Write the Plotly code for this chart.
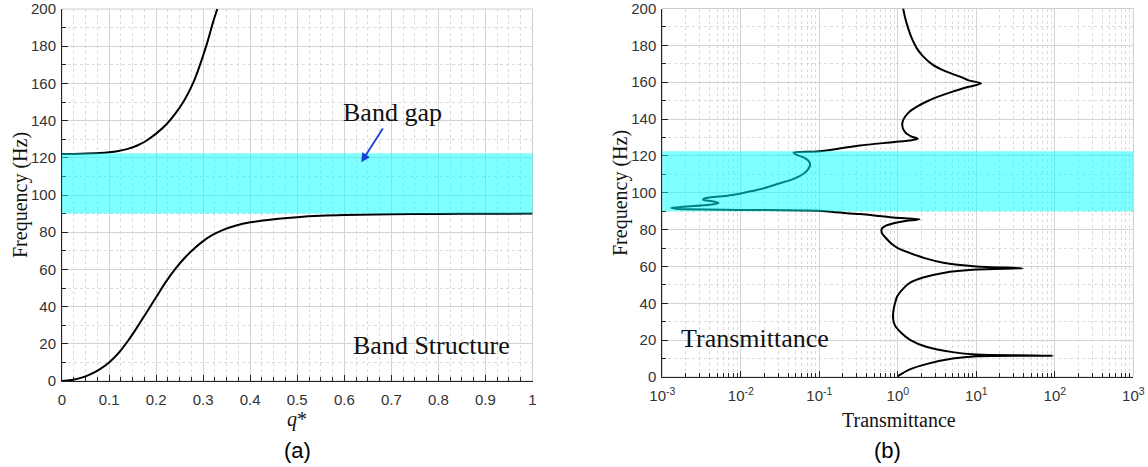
import plotly.graph_objects as go

# ---- Data ----
# Panel (a): band structure
q_lower = [0, 0.02, 0.04, 0.06, 0.08, 0.1, 0.12, 0.14, 0.16, 0.18, 0.2, 0.22, 0.24, 0.26,
           0.28, 0.3, 0.32, 0.34, 0.37, 0.4, 0.45, 0.5, 0.55, 0.6, 0.7, 0.8, 0.9, 1.0]
f_lower = [0, 0.5, 1.7, 3.6, 6.3, 10, 15, 21.5, 29, 37, 45, 53, 60, 66,
           71, 75.2, 78.5, 81, 83.6, 85.3, 87, 88.1, 88.8, 89.2, 89.6, 89.8, 89.9, 90]
q_upper = [0, 0.04, 0.08, 0.1, 0.12, 0.14, 0.16, 0.18, 0.2, 0.22, 0.24, 0.26, 0.28, 0.3,
           0.31, 0.32, 0.33]
f_upper = [122, 122.2, 122.6, 123, 123.7, 124.8, 126.6, 129.3, 133, 137.5, 143.5, 151, 161,
           175, 183, 192, 200]

# Panel (b): transmittance vs frequency
f_trans = [0.5, 4, 7, 10, 11.3, 11.6, 12.2, 13.5, 16.4, 20, 23.7, 28, 32, 36, 40, 43.7, 47, 51,
           54, 56.5, 58.3, 59, 60, 62, 64.5, 67.4, 70, 72, 75.6, 78, 80, 81.5, 82.9, 84.5, 85.6,
           86.6, 88.4, 89.5, 90.2, 90.7, 91.3, 91.8, 92.5, 93.5, 94.4, 95.3, 96.2, 97, 98.5,
           100, 102, 104.5, 107.5, 111, 114.8, 117, 119, 120.5, 121.7, 122.4, 124, 125.7,
           127.5, 128.5, 129.3, 130.5, 132, 134, 136.5, 139, 141.5, 144, 147, 149.4, 152,
           154.9, 157.5, 159.4, 161, 163, 166, 169.4, 174, 178.5, 184, 189.5, 195, 200]
t_trans = [1.0, 1.4, 2.3, 5, 10, 94, 10, 5, 2.3, 1.45, 1.12, 0.92, 0.87, 0.88, 0.92, 0.98, 1.12,
           1.41, 2.1, 3.8, 10, 39, 10, 3.8, 2.2, 1.41, 1.0, 0.85, 0.7, 0.63, 0.62, 0.66, 0.8,
           1.2, 1.9, 0.87, 0.33, 0.15, 0.1, 0.01, 0.0015, 0.0013, 0.002, 0.004, 0.0052, 0.0045,
           0.0033, 0.0035, 0.007, 0.011, 0.018, 0.028, 0.047, 0.066, 0.076, 0.074, 0.064, 0.052,
           0.047, 0.093, 0.18, 0.33, 0.9, 1.5, 1.8, 1.5, 1.3, 1.19, 1.14, 1.16, 1.25, 1.41, 1.8,
           2.3, 3.2, 5, 8, 11.5, 8, 6.2, 4, 2.8, 2.1, 1.74, 1.5, 1.35, 1.24, 1.17]

gap_low, gap_high = 90, 122.5
freq_ticks = [0, 20, 40, 60, 80, 100, 120, 140, 160, 180, 200]
q_ticks = [0, 0.1, 0.2, 0.3, 0.4, 0.5, 0.6, 0.7, 0.8, 0.9, 1]
q_tick_text = ["0", "0.1", "0.2", "0.3", "0.4", "0.5", "0.6", "0.7", "0.8", "0.9", "1"]
t_ticks = [1e-3, 1e-2, 1e-1, 1, 10, 100, 1000]
t_tick_text = ["10<sup>-3</sup>", "10<sup>-2</sup>", "10<sup>-1</sup>", "10<sup>0</sup>",
               "10<sup>1</sup>", "10<sup>2</sup>", "10<sup>3</sup>"]

# ---- Figure ----
W, H = 1148, 467
fig = go.Figure()
line_style = dict(color="black", width=2, shape="spline", smoothing=1.0)
fig.add_trace(go.Scatter(x=q_lower, y=f_lower, mode="lines", line=line_style,
                         xaxis="x", yaxis="y", showlegend=False))
fig.add_trace(go.Scatter(x=q_upper, y=f_upper, mode="lines", line=line_style,
                         xaxis="x", yaxis="y", showlegend=False))
fig.add_trace(go.Scatter(x=t_trans, y=f_trans, mode="lines",
                         line=dict(color="black", width=2, shape="spline", smoothing=0.8),
                         xaxis="x2", yaxis="y2", showlegend=False))

tickfont = dict(family="Liberation Sans, Arial", size=15, color="#333333")
grid_major = "#d4d4d4"
grid_minor = "#dadada"

common_axis = dict(showline=True, linecolor="#222222", linewidth=1, ticks="inside",
                   ticklen=6, tickcolor="#222222", showgrid=True, gridcolor=grid_major,
                   gridwidth=1, zeroline=False, tickfont=tickfont, automargin=False,
                   ticklabeloverflow="allow")

fig.update_layout(
    width=W, height=H, margin=dict(l=0, r=0, t=0, b=0),
    paper_bgcolor="white", plot_bgcolor="white",
    xaxis=dict(domain=[62 / W, 532.5 / W], range=[0, 1], tickvals=q_ticks,
               ticktext=q_tick_text, anchor="y", ticklabelstandoff=5,
               minor=dict(dtick=0.025, showgrid=True, griddash="dot", gridcolor=grid_minor,
                          ticks="inside", ticklen=4, tickcolor="#222222"),
               **common_axis),
    yaxis=dict(domain=[(H - 381) / H, (H - 9) / H], range=[0, 200.001], tickvals=freq_ticks,
               anchor="x", ticklabelstandoff=2,
               minor=dict(dtick=10, showgrid=True, griddash="dot", gridcolor=grid_minor,
                          ticks="inside", ticklen=4, tickcolor="#222222"),
               **common_axis),
    xaxis2=dict(domain=[662.3 / W, 1133.3 / W], type="log", range=[-3, 3],
                tickvals=t_ticks, ticktext=t_tick_text, anchor="y2", ticklabelstandoff=5,
                minor=dict(dtick="D1", showgrid=True, griddash="dot", gridcolor=grid_minor,
                           ticks="inside", ticklen=4, tickcolor="#222222"),
                **common_axis),
    yaxis2=dict(domain=[(H - 377) / H, (H - 8.5) / H], range=[0, 200.001], tickvals=freq_ticks,
                anchor="x2", ticklabelstandoff=2,
                minor=dict(dtick=10, showgrid=True, griddash="dot", gridcolor=grid_minor,
                           ticks="inside", ticklen=4, tickcolor="#222222"),
                **common_axis),
)

shapes = []
for xr, yr in [("x", "y"), ("x2", "y2")]:
    # band gap
    shapes.append(dict(type="rect", xref=xr + " domain", yref=yr, x0=0, x1=1,
                       y0=gap_low, y1=gap_high, fillcolor="rgba(0,255,255,0.5)",
                       line=dict(width=0), layer="above"))
    # light frame (top/right)
    shapes.append(dict(type="rect", xref=xr + " domain", yref=yr + " domain", x0=0, x1=1,
                       y0=0, y1=1, line=dict(color="#cccccc", width=1),
                       fillcolor="rgba(0,0,0,0)", layer="below"))
fig.update_layout(shapes=shapes)

serif = "Liberation Serif, Times New Roman"
ann = []
# axis titles
ann.append(dict(text="Frequency (Hz)", xref="paper", yref="paper", x=20 / W, y=(H - 195) / H,
                textangle=-90, showarrow=False, font=dict(family=serif, size=20, color="#111"),
                xanchor="center", yanchor="middle"))
ann.append(dict(text="Frequency (Hz)", xref="paper", yref="paper", x=620 / W, y=(H - 193) / H,
                textangle=-90, showarrow=False, font=dict(family=serif, size=20, color="#111"),
                xanchor="center", yanchor="middle"))
ann.append(dict(text="<i>q</i>*", xref="paper", yref="paper", x=297 / W, y=(H - 419) / H,
                showarrow=False, font=dict(family=serif, size=20, color="#111"),
                xanchor="center", yanchor="middle"))
ann.append(dict(text="Transmittance", xref="paper", yref="paper", x=899 / W, y=(H - 420) / H,
                showarrow=False, font=dict(family=serif, size=20, color="#111"),
                xanchor="center", yanchor="middle"))
# panel labels
ann.append(dict(text="(a)", xref="paper", yref="paper", x=297 / W, y=(H - 450) / H,
                showarrow=False, font=dict(family="Liberation Sans, Arial", size=22, color="#000"),
                xanchor="center", yanchor="middle"))
ann.append(dict(text="(b)", xref="paper", yref="paper", x=887 / W, y=(H - 450) / H,
                showarrow=False, font=dict(family="Liberation Sans, Arial", size=22, color="#000"),
                xanchor="center", yanchor="middle"))
# in-plot texts
ann.append(dict(text="Band gap", xref="paper", yref="paper", x=392 / W, y=(H - 112) / H,
                showarrow=False, font=dict(family=serif, size=26, color="#111"),
                xanchor="center", yanchor="middle"))
ann.append(dict(text="", x=0.636, y=117.6, ax=0.684, ay=136.5, xref="x", yref="y",
                axref="x", ayref="y", showarrow=True, arrowhead=2, arrowsize=1,
                arrowwidth=1.8, arrowcolor="#1a3fd6"))
ann.append(dict(text="Band Structure", xref="paper", yref="paper", x=431 / W, y=(H - 345) / H,
                showarrow=False, font=dict(family=serif, size=26, color="#111"),
                xanchor="center", yanchor="middle"))
ann.append(dict(text="Transmittance", xref="paper", yref="paper", x=755 / W, y=(H - 339) / H,
                showarrow=False, font=dict(family=serif, size=26, color="#111"),
                xanchor="center", yanchor="middle"))
fig.update_layout(annotations=ann)

fig.write_html("out.html")
